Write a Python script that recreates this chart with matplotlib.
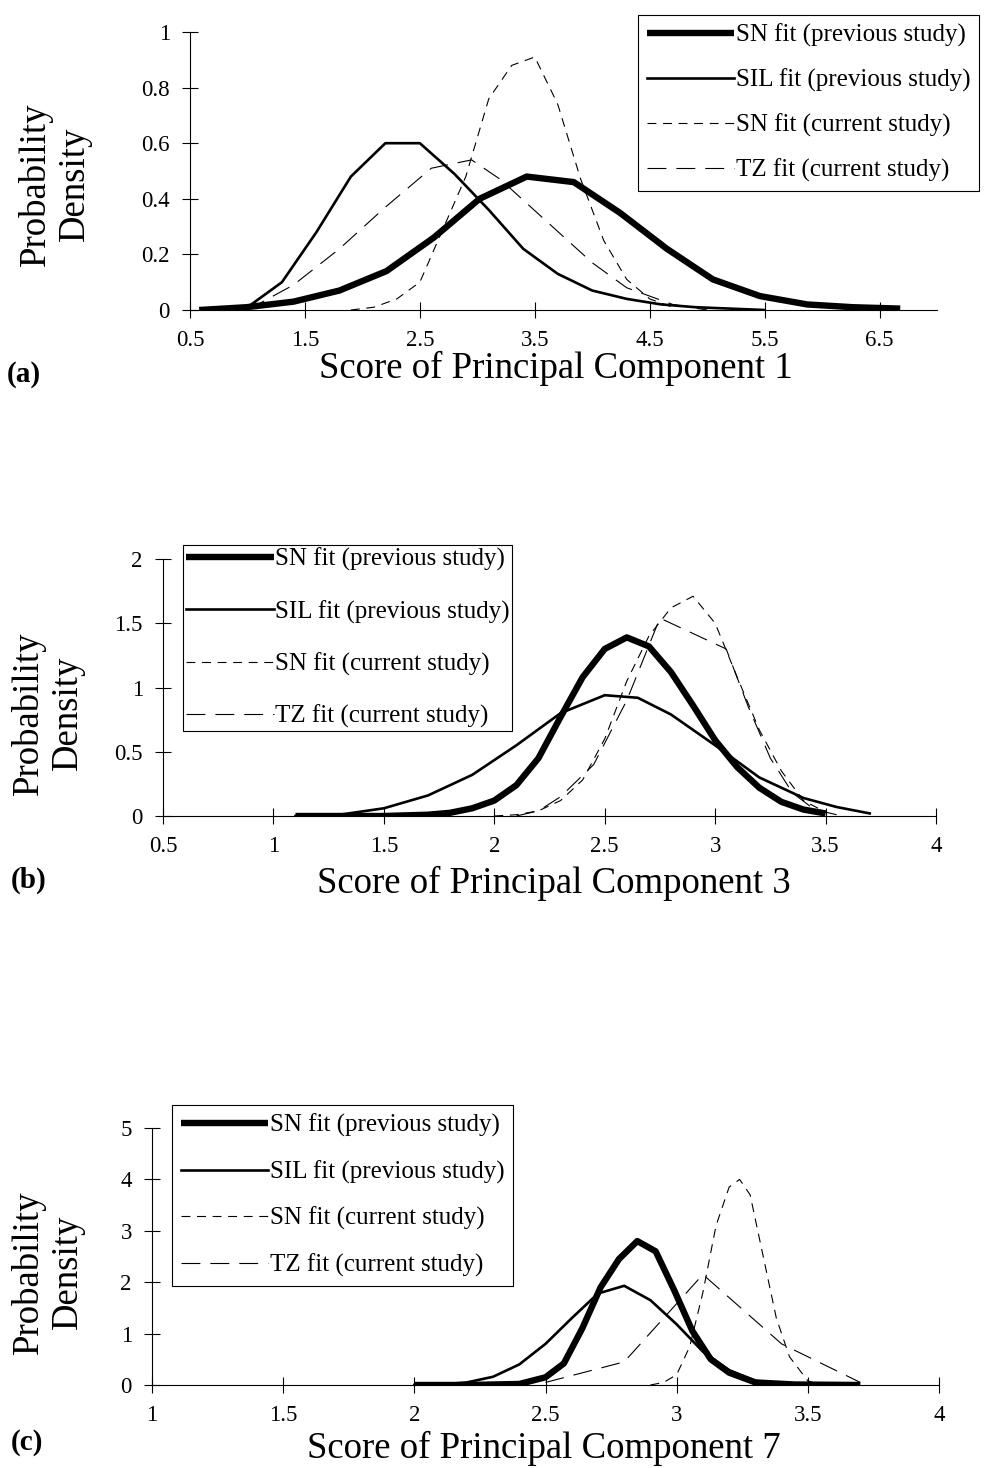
"""Fitted probability densities of principal component scores, three panels."""

import matplotlib

matplotlib.use("Agg")

import matplotlib.pyplot as plt
from matplotlib.ticker import FormatStrFormatter

plt.rcParams["font.family"] = ["Liberation Serif", "DejaVu Serif"]

LABELS = [
    "SN fit (previous study)",
    "SIL fit (previous study)",
    "SN fit (current study)",
    "TZ fit (current study)",
]

# ---- panel (a): principal component 1
a_sn_prev_x = [0.58, 0.99, 1.4, 1.8, 2.21, 2.62, 3.02, 3.43, 3.84, 4.24, 4.65, 5.05, 5.46, 5.87, 6.27, 6.68]
a_sn_prev_y = [0.0, 0.01, 0.03, 0.07, 0.14, 0.26, 0.40, 0.48, 0.46, 0.35, 0.22, 0.11, 0.05, 0.02, 0.01, 0.005]
a_sil_x = [1.0, 1.3, 1.6, 1.9, 2.2, 2.5, 2.8, 3.1, 3.4, 3.7, 4.0, 4.3, 4.6, 4.9, 5.2, 5.5]
a_sil_y = [0.01, 0.10, 0.28, 0.48, 0.60, 0.60, 0.49, 0.36, 0.22, 0.13, 0.07, 0.04, 0.02, 0.01, 0.005, 0.0]
a_sn_cur_x = [1.9, 2.1, 2.3, 2.5, 2.7, 2.9, 3.1, 3.3, 3.5, 3.7, 3.9, 4.1, 4.3, 4.5, 4.7]
a_sn_cur_y = [0.0, 0.01, 0.04, 0.10, 0.29, 0.48, 0.76, 0.88, 0.91, 0.74, 0.47, 0.25, 0.11, 0.04, 0.01]
a_tz_x = [1.0, 1.4, 1.8, 2.2, 2.6, 2.95, 3.2, 3.6, 4.0, 4.3, 4.7, 5.0]
a_tz_y = [0.0, 0.09, 0.22, 0.37, 0.51, 0.54, 0.47, 0.32, 0.17, 0.08, 0.02, 0.0]
a_xticks = [0.5, 1.5, 2.5, 3.5, 4.5, 5.5, 6.5]
a_yticks = [0, 0.2, 0.4, 0.6, 0.8, 1]

# ---- panel (b): principal component 3
b_sn_prev_x = [1.1, 1.2, 1.3, 1.4, 1.5, 1.6, 1.7, 1.8, 1.9, 2.0, 2.1, 2.2, 2.3,
               2.4, 2.5, 2.6, 2.7, 2.8, 2.9, 3.0, 3.1, 3.2, 3.3, 3.4, 3.5]
b_sn_prev_y = [0.0, 0.0, 0.0, 0.0, 0.0, 0.005, 0.01, 0.025, 0.06, 0.12, 0.24, 0.45, 0.77,
               1.08, 1.30, 1.39, 1.32, 1.12, 0.86, 0.59, 0.38, 0.22, 0.11, 0.05, 0.02]
b_sil_x = [1.1, 1.3, 1.5, 1.7, 1.9, 2.1, 2.3, 2.5, 2.65, 2.8, 3.0, 3.2, 3.4, 3.55, 3.7]
b_sil_y = [0.0, 0.01, 0.06, 0.16, 0.32, 0.55, 0.80, 0.94, 0.92, 0.79, 0.55, 0.30, 0.14, 0.07, 0.02]
b_sn_cur_x = [2.0, 2.1, 2.2, 2.3, 2.4, 2.5, 2.6, 2.7, 2.8, 2.9, 3.0, 3.1, 3.2, 3.3, 3.4, 3.5]
b_sn_cur_y = [0.0, 0.01, 0.04, 0.12, 0.28, 0.60, 1.05, 1.40, 1.62, 1.71, 1.50, 1.08, 0.67, 0.35, 0.12, 0.03]
b_tz_x = [2.1, 2.2, 2.3, 2.45, 2.6, 2.75, 3.05, 3.15, 3.25, 3.35, 3.45, 3.55]
b_tz_y = [0.0, 0.04, 0.15, 0.40, 0.90, 1.54, 1.30, 0.85, 0.45, 0.18, 0.05, 0.01]
b_xticks = [0.5, 1, 1.5, 2, 2.5, 3, 3.5, 4]
b_yticks = [0, 0.5, 1, 1.5, 2]

# ---- panel (c): principal component 7
c_sn_prev_x = [2.0, 2.2, 2.4, 2.5, 2.57, 2.64, 2.71, 2.78, 2.85, 2.92, 2.99, 3.06, 3.13, 3.2, 3.3, 3.45, 3.7]
c_sn_prev_y = [0.0, 0.0, 0.02, 0.15, 0.42, 1.1, 1.9, 2.45, 2.8, 2.6, 1.85, 1.05, 0.5, 0.24, 0.05, 0.01, 0.0]
c_sil_x = [2.0, 2.1, 2.2, 2.3, 2.4, 2.5, 2.6, 2.7, 2.8, 2.9, 3.0, 3.1, 3.2, 3.3, 3.4]
c_sil_y = [0.0, 0.01, 0.05, 0.16, 0.40, 0.80, 1.30, 1.78, 1.93, 1.65, 1.18, 0.65, 0.29, 0.08, 0.02]
c_sn_cur_x = [2.9, 2.95, 3.0, 3.05, 3.1, 3.15, 3.2, 3.24, 3.28, 3.33, 3.38, 3.43, 3.5, 3.55]
c_sn_cur_y = [0.0, 0.05, 0.2, 0.75, 1.8, 3.1, 3.85, 4.0, 3.7, 2.5, 1.3, 0.55, 0.08, 0.0]
c_tz_x = [2.5, 2.8, 3.1, 3.4, 3.7]
c_tz_y = [0.05, 0.45, 2.15, 0.8, 0.05]
c_xticks = [1, 1.5, 2, 2.5, 3, 3.5, 4]
c_yticks = [0, 1, 2, 3, 4, 5]

W, H = 999, 1468

STYLES = [
    dict(color="black", linewidth=4.6, solid_capstyle="butt"),
    dict(color="black", linewidth=1.9),
    dict(color="black", linewidth=0.8, dashes=(8, 6)),
    dict(color="black", linewidth=0.8, dashes=(17, 9)),
]


def px_rect(x0, y0, x1, y1):
    """Pixel box (top-left origin) -> figure fraction rect."""
    return [x0 / W, 1 - y1 / H, (x1 - x0) / W, (y1 - y0) / H]


def draw_panel(fig, rect, series, xlim, ylim, xticks, yticks,
               letter, letter_pos, xlabel, xlabel_pos, ylabel_pos,
               legend_pos, legend_spacing, legend_pad=0.35):
    ax = fig.add_axes(px_rect(*rect))
    handles = []
    for (xs, ys), style in zip(series, STYLES):
        (line,) = ax.plot(xs, ys, **style)
        handles.append(line)

    ax.set_xlim(*xlim)
    ax.set_ylim(*ylim)
    ax.set_xticks(xticks)
    ax.set_yticks(yticks)
    ax.xaxis.set_major_formatter(FormatStrFormatter("%g"))
    ax.yaxis.set_major_formatter(FormatStrFormatter("%g"))
    for side in ("top", "right"):
        ax.spines[side].set_visible(False)
    for side in ("left", "bottom"):
        ax.spines[side].set_linewidth(0.8)
    ax.tick_params(axis="both", direction="inout", length=11, width=0.8, labelsize=16.5)
    ax.tick_params(axis="x", pad=9)
    ax.tick_params(axis="y", pad=9)
    ax.patch.set_alpha(0)

    # x label placed on its baseline, y label as two centred lines
    fig.text(xlabel_pos[0] / W, 1 - xlabel_pos[1] / H, xlabel,
             fontsize=26.5, ha="center", va="baseline")
    fig.text(ylabel_pos[0] / W, 1 - ylabel_pos[1] / H, "Probability\nDensity",
             fontsize=26.5, ha="center", va="center", rotation=90,
             linespacing=1.15, multialignment="center")
    fig.text(letter_pos[0] / W, 1 - letter_pos[1] / H, letter,
             fontsize=21, fontweight="bold", ha="left", va="center")

    leg = ax.legend(handles, LABELS, loc="upper left",
                    bbox_to_anchor=(legend_pos[0] / W, 1 - legend_pos[1] / H),
                    bbox_transform=fig.transFigure, fontsize=18,
                    handlelength=3.5, handletextpad=0.05, labelspacing=legend_spacing,
                    borderpad=legend_pad, borderaxespad=0, fancybox=False,
                    framealpha=1, edgecolor="black")
    leg.get_frame().set_linewidth(0.8)
    return ax


fig = plt.figure(figsize=(W / 100, H / 100), dpi=100)

draw_panel(
    fig, (190, 32, 937, 310),
    [(a_sn_prev_x, a_sn_prev_y), (a_sil_x, a_sil_y), (a_sn_cur_x, a_sn_cur_y), (a_tz_x, a_tz_y)],
    (0.5, 7.0), (0, 1), a_xticks, a_yticks,
    "(a)", (7, 374), "Score of Principal Component 1", (556, 378), (55, 184), (638, 15), 0.86,
)
draw_panel(
    fig, (163, 559, 936, 816),
    [(b_sn_prev_x, b_sn_prev_y), (b_sil_x, b_sil_y), (b_sn_cur_x, b_sn_cur_y), (b_tz_x, b_tz_y)],
    (0.5, 4.0), (0, 2), b_xticks, b_yticks,
    "(b)", (11, 880), "Score of Principal Component 3", (554, 893), (48, 713), (183, 545), 1.15, 0.12,
)
draw_panel(
    fig, (152, 1128, 939, 1385),
    [(c_sn_prev_x, c_sn_prev_y), (c_sil_x, c_sil_y), (c_sn_cur_x, c_sn_cur_y), (c_tz_x, c_tz_y)],
    (1.0, 4.0), (0, 5), c_xticks, c_yticks,
    "(c)", (11, 1443), "Score of Principal Component 7", (544, 1458), (48, 1272), (172, 1105), 0.93,
)

fig.savefig("out.png", dpi=100)
plt.close(fig)
